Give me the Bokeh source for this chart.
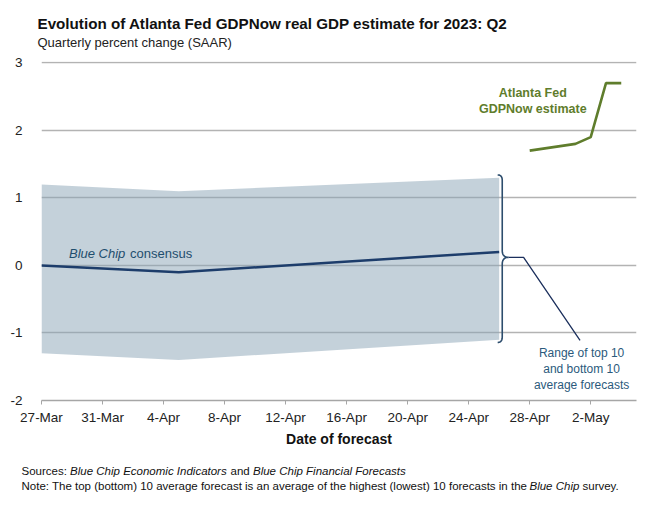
import numpy as np
import pandas as pd
from bokeh.plotting import figure
from bokeh.models import Label, FixedTicker, Range1d
from bokeh.layouts import column
from bokeh.core.properties import value
from bokeh.embed import file_html
from bokeh.resources import INLINE

# ---------------- data ----------------
base_date = "2023-03-27"
x_tick_dates = ["2023-03-27", "2023-03-31", "2023-04-04", "2023-04-08", "2023-04-12",
                "2023-04-16", "2023-04-20", "2023-04-24", "2023-04-28", "2023-05-02"]
x_tick_labels = ["27-Mar", "31-Mar", "4-Apr", "8-Apr", "12-Apr",
                 "16-Apr", "20-Apr", "24-Apr", "28-Apr", "2-May"]
x_end_date = "2023-05-05"
y_ticks = [-2, -1, 0, 1, 2, 3]
y_tick_labels = ["-2", "-1", "0", "1", "2", "3"]

consensus_dates = ["2023-03-27", "2023-04-05", "2023-04-26"]
consensus = [0.0, -0.1, 0.2]
top10 = [1.2, 1.1, 1.3]
bottom10 = [-1.3, -1.4, -1.1]

gdpnow_dates = ["2023-04-28", "2023-05-01", "2023-05-02", "2023-05-03", "2023-05-04"]
gdpnow = [1.7, 1.8, 1.9, 2.7, 2.7]

title_text = "Evolution of Atlanta Fed GDPNow real GDP estimate for 2023: Q2"
subtitle_text = "Quarterly percent change (SAAR)"
x_axis_title = "Date of forecast"

# ---------------- helpers ----------------
b0 = pd.Timestamp(base_date)
def days(ds):
    return [(pd.Timestamp(d) - b0).days for d in ds]

cx = days(consensus_dates)
gx = days(gdpnow_dates)
tx = days(x_tick_dates)
xend = days([x_end_date])[0]

FONT = "Liberation Sans"
NAVY = "#1d3d6b"
GREEN = "#5f7d2c"
LABEL_BLUE = "#2b5a7c"
W = 640
LEFT, RIGHT = 41, 4

def text_fig(h):
    # whole canvas is the frame; data units equal page pixels
    f = figure(width=W, height=h, output_backend="svg", toolbar_location=None,
               x_range=Range1d(0, W), y_range=Range1d(h, 0),
               x_axis_location=None, y_axis_location=None, frame_align=False,
               min_border_left=0, min_border_right=0, min_border_top=0, min_border_bottom=0)
    f.grid.grid_line_color = None
    f.outline_line_color = None
    return f

# ---------------- title block ----------------
head = text_fig(50)
head.text(x=[37], y=[22.5], text=[title_text], text_font=value(FONT),
          text_font_style="bold", text_font_size="15.2px", text_baseline="middle",
          text_color="#111111")
head.text(x=[37], y=[41.7], text=[subtitle_text], text_font=value(FONT),
          text_font_size="13px", text_baseline="middle", text_color="#222222")

# ---------------- main chart ----------------
p = figure(width=W, height=405, output_backend="svg", toolbar_location=None,
           x_range=Range1d(0, xend), y_range=Range1d(-2, 3.02), frame_align=False,
           min_border_left=LEFT, min_border_right=RIGHT, min_border_top=11, min_border_bottom=55)
p.outline_line_color = None
p.background_fill_color = "white"
p.border_fill_color = "white"

p.xgrid.grid_line_color = None
p.ygrid.ticker = FixedTicker(ticks=y_ticks)
p.ygrid.grid_line_color = "#b3b3b3"
p.ygrid.grid_line_width = 1.3

p.yaxis.ticker = FixedTicker(ticks=y_ticks)
p.yaxis.major_label_overrides = {t: l for t, l in zip(y_ticks, y_tick_labels)}
p.yaxis.axis_line_color = None
p.yaxis.major_tick_line_color = None
p.yaxis.minor_tick_line_color = None
p.yaxis.major_label_standoff = 13
p.yaxis.major_label_text_font = FONT
p.yaxis.major_label_text_font_size = "13.5px"
p.yaxis.major_label_text_color = "#222222"

p.xaxis.ticker = FixedTicker(ticks=tx)
p.xaxis.major_label_overrides = {t: l for t, l in zip(tx, x_tick_labels)}
p.xaxis.axis_line_color = "#a6a6a6"
p.xaxis.axis_line_width = 1.3
p.xaxis.major_tick_line_color = "#a6a6a6"
p.xaxis.major_tick_out = 4
p.xaxis.major_tick_in = 0
p.xaxis.minor_tick_line_color = None
p.xaxis.major_label_text_font = FONT
p.xaxis.major_label_text_font_size = "13.5px"
p.xaxis.major_label_text_color = "#222222"
p.xaxis.major_label_standoff = 5
p.xaxis.axis_label = x_axis_title
p.xaxis.axis_label_text_font = FONT
p.xaxis.axis_label_text_font_size = "14px"
p.xaxis.axis_label_text_font_style = "bold"
p.xaxis.axis_label_text_color = "#111111"
p.xaxis.axis_label_standoff = 3

p.varea(x=cx, y1=bottom10, y2=top10, fill_color="#8aa3b6", fill_alpha=0.5)
p.line(cx, consensus, line_color=NAVY, line_width=2.5)
p.line(gx, gdpnow, line_color=GREEN, line_width=2.6)

# curly brace at the end of the band
bx = cx[-1] + 0.2
btop = top10[-1] + 0.04
bbot = bottom10[-1] - 0.04
bmid = (btop + bbot) / 2 + 0.02
hook_dx, hook_dy, tip_dx, tip_dy = 0.3, 0.08, 0.42, 0.1

def quad(p0, p1, p2, n=12):
    t = np.linspace(0, 1, n)
    xs = (1 - t) ** 2 * p0[0] + 2 * (1 - t) * t * p1[0] + t ** 2 * p2[0]
    ys = (1 - t) ** 2 * p0[1] + 2 * (1 - t) * t * p1[1] + t ** 2 * p2[1]
    return list(xs), list(ys)

segs = [
    quad((bx - hook_dx, btop), (bx, btop), (bx, btop - hook_dy)),
    ([bx, bx], [btop - hook_dy, bmid + tip_dy]),
    quad((bx, bmid + tip_dy), (bx, bmid), (bx + tip_dx, bmid)),
    quad((bx + tip_dx, bmid), (bx, bmid), (bx, bmid - tip_dy)),
    ([bx, bx], [bmid - tip_dy, bbot + hook_dy]),
    quad((bx, bbot + hook_dy), (bx, bbot), (bx - hook_dx, bbot)),
]
brx, bry = [], []
for sx, sy in segs:
    brx += list(sx)
    bry += list(sy)
p.line(brx, bry, line_color="#2d4d6d", line_width=1.6)

lead_x = [bx + tip_dx, 31.6, 35.3]
lead_y = [bmid, bmid, -1.11]
p.line(lead_x, lead_y, line_color="#1b2f5c", line_width=1.3)

def add_label(x, y, text, **kw):
    opts = dict(text_font=FONT, text_font_size="13px", text_baseline="middle")
    opts.update(kw)
    p.add_layout(Label(x=x, y=y, text=text, **opts))

add_label(1.8, 0.17, "Blue Chip", text_font_style="italic", text_color="#1f4e6e")
add_label(5.8, 0.17, "consensus", text_color="#1f4e6e")

add_label(32.2, 2.56, "Atlanta Fed", text_font_style="bold", text_color=GREEN,
          text_align="center", text_font_size="12.5px")
add_label(32.2, 2.31, "GDPNow estimate", text_font_style="bold", text_color=GREEN,
          text_align="center", text_font_size="12.5px")

for yy, t in zip([-1.29, -1.53, -1.77], ["Range of top 10", "and bottom 10", "average forecasts"]):
    add_label(35.4, yy, t, text_color=LABEL_BLUE, text_align="center", text_font_size="12px")

# ---------------- footer ----------------
foot = text_fig(45)
def ftext(x, y, t, style="normal"):
    foot.text(x=[x], y=[y], text=[t], text_font=value(FONT), text_font_size="11.5px",
              text_font_style=style, text_baseline="middle", text_color="#111111")

ftext(21, 15.7, "Sources:")
ftext(69.6, 15.7, "Blue Chip Economic Indicators", "italic")
ftext(230, 15.7, "and")
ftext(252.5, 15.7, "Blue Chip Financial Forecasts", "italic")
ftext(21, 30, "Note: The top (bottom) 10 average forecast is an average of the highest (lowest) 10 forecasts in the")
ftext(529, 30, "Blue Chip", "italic")
ftext(582, 30, "survey.")

layout = column(head, p, foot, spacing=0)
open("out.html", "w").write(file_html(layout, INLINE))
